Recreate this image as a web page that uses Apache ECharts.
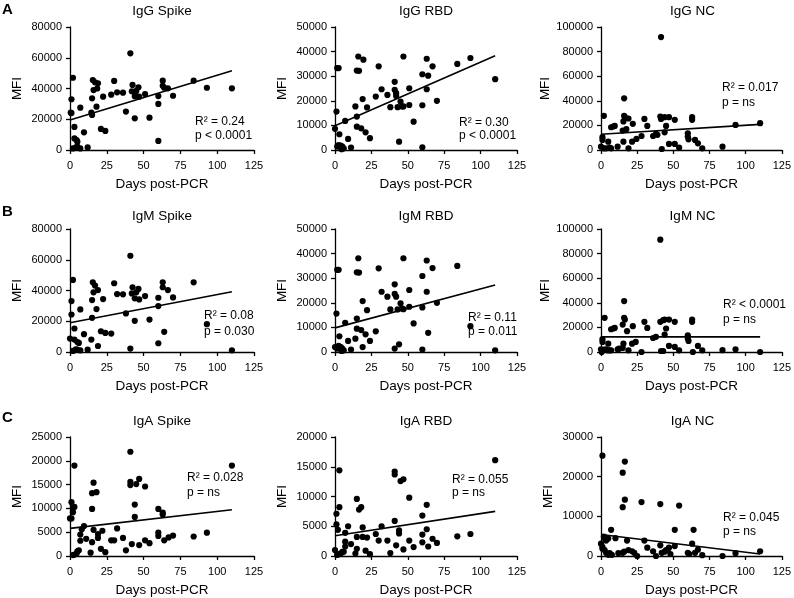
<!DOCTYPE html>
<html><head><meta charset="utf-8">
<script src="https://cdn.jsdelivr.net/npm/echarts@6/dist/echarts.min.js"></script>
<style>html,body{margin:0;padding:0;background:#fff}#c{width:794px;height:598px}</style>
</head><body><div id="c"></div>
<script>
// ---------- DATA ----------
const panelTitles = ['IgG Spike','IgG RBD','IgG NC','IgM Spike','IgM RBD','IgM NC','IgA Spike','IgA RBD','IgA NC'];
const rowLetters = ['A','B','C'];
const xTicks = [0,25,50,75,100,125];
const yMax = [80000,50000,100000,80000,50000,100000,25000,20000,30000];
const yStep = [20000,10000,20000,20000,10000,20000,5000,5000,10000];
const xAxisName = 'Days post-PCR';
const yAxisName = 'MFI';
const statR2 = ['R² = 0.24','R² = 0.30','R² = 0.017','R² = 0.08','R² = 0.11','R² < 0.0001','R² = 0.028','R² = 0.055','R² = 0.045'];
const statP = ['p < 0.0001','p < 0.0001','p = ns','p = 0.030','p = 0.011','p = ns','p = ns','p = ns','p = ns'];

const igGSpike = [[0.5,24300],[1,24000],[1,33000],[2,47000],[3,15000],[3,7500],[4.5,6500],[5,5400],[2,1000],[4,1700],[5,2200],[7,1000],[7,27500],[9.5,11500],[12,1700],[14.5,24300],[15,22800],[15,33600],[15.5,45500],[17,44000],[16,39000],[18.5,40000],[19,43400],[18,28200],[21,13700],[22.5,34700],[24,12400],[28,36000],[30,44900],[32,37500],[36,37300],[38,25000],[41,62900],[42,38200],[42.5,42300],[44,35000],[44,20600],[45,38400],[46.5,40800],[47,34700],[51,36400],[54,21000],[60,35100],[60,30000],[60,5900],[63,45100],[63,41800],[64,40500],[66.5,40100],[70,35300],[84,45100],[93,40500],[110,40100]];
const igGRbd = [[0,8600],[1,15600],[1.5,33300],[2.5,33300],[3,6400],[1.5,1400],[2.5,2000],[4,1800],[5,1400],[4.5,300],[6,700],[7,11800],[9,4500],[11,1000],[14,17700],[15,13600],[15,9500],[15,32300],[16.5,32200],[16,38000],[18,8800],[19.5,36700],[19,20700],[21,7200],[22,17300],[24,4800],[28,21700],[30,34000],[32,24700],[36,22400],[38,17400],[41,27700],[41,24500],[42,23100],[42,22000],[43,17400],[44,3400],[45,19700],[46,17700],[47,38000],[47,17700],[51,25100],[51,18300],[54,11500],[60,30800],[60,18200],[60,1100],[63,37100],[63,24700],[64,30200],[67,34000],[70,20000],[84,35000],[93,37400],[110,28800]];
const igGNc = [[0,2700],[1,8200],[1,10400],[2,27800],[2,1400],[3.5,1400],[5,6800],[6,1900],[7,1400],[7,18500],[8.5,19100],[9.5,19600],[11.5,2700],[15,15800],[15.5,6800],[15.5,23200],[16,27800],[16.5,26700],[16,42000],[17.5,16900],[19,25600],[19,1400],[21.5,6800],[22,21300],[24.5,9000],[28,11400],[30,25300],[32,19600],[36,11400],[38,13100],[39,12300],[41.5,91800],[41,27200],[41.5,25300],[42,800],[44,26700],[44,14400],[45,19600],[47,26700],[47,4900],[51,24500],[51,4900],[54,1900],[60,13600],[60,10900],[60.5,8700],[63,26700],[63,24500],[65,8200],[67,5400],[70,1400],[84,2700],[93,20400],[110,21800]];
const igMSpike = [[0,8700],[1,24400],[1,33100],[2,46900],[3,15300],[3,8100],[5,6500],[6,5900],[2,700],[4,1700],[5,1500],[7,1100],[7,27700],[9.5,11600],[12,1500],[14.5,8100],[15,22200],[15,33800],[15.5,45300],[17,43200],[16,38800],[19,40300],[18,27900],[19,3900],[21,13500],[22.5,34400],[24,12400],[28,12000],[30,44700],[32,37700],[36,37500],[38,25100],[41,62600],[41,2200],[42,38100],[42.5,42100],[44,34900],[44,20300],[45,38800],[46.5,41000],[47,34200],[51,36400],[54,21100],[60,35300],[60,29900],[60,5700],[63,45300],[63,42100],[64,13100],[66.5,40300],[70,35500],[84,45300],[93,18100],[110,1100]];
const igMRbd = [[0,2000],[1,15600],[1.5,33400],[2.5,33400],[3,6400],[1.5,1400],[2.5,2500],[4,2000],[5,1400],[4.5,400],[6,700],[7,11900],[9,4500],[11,1000],[14,5400],[15,13600],[15,9500],[15,32400],[16.5,32300],[16,38100],[18,8900],[19,2000],[19,20700],[21,7200],[22,17000],[24,4500],[28,8400],[30,34000],[32,24500],[36,22500],[38,17300],[41,27500],[41,23600],[42,22500],[41,1400],[43,17300],[44,3100],[45,19800],[46,17700],[47,38100],[47,17400],[51,25200],[51,18400],[54,11600],[60,30900],[60,18100],[60,1000],[63,37200],[63,24500],[64,7800],[67,34100],[70,20000],[84,35000],[93,10500],[110,700]];
const igMNc = [[0,2200],[0.5,0],[1,8200],[1,10400],[2.5,27800],[2,1900],[3.5,2200],[4.5,1400],[5,6800],[6,1400],[7,1400],[7,18500],[8.5,19100],[9.5,19600],[11.5,2200],[12.5,2700],[15,3300],[15.5,6800],[15,22300],[16,27800],[16.5,26400],[16,41400],[18,16900],[19,1400],[21.5,6800],[22,21000],[24,8200],[28,0],[30,24500],[32,19600],[36,11400],[38,12300],[41,91300],[41,24500],[43,25900],[41.5,800],[43,800],[44,14200],[45,19100],[44,26400],[47,26400],[47,4900],[51,24500],[51,4100],[54,1400],[60,13600],[60,10900],[60.5,9000],[63,26400],[63,24500],[63.5,0],[67,4900],[70,1400],[84,1500],[93,2200],[110,0]];
const igASpike = [[0,7900],[1,7900],[1,11300],[2,10300],[2,9200],[3,19000],[3,10300],[2,200],[3,300],[4.5,500],[5,1000],[6,1200],[7,4500],[7,3200],[8,5600],[9.5,6300],[11,3600],[14,700],[15,9900],[15,13200],[16,15400],[18,13400],[16,5500],[19,4600],[19,3800],[15,2900],[21,1500],[22,5300],[24,800],[28,3300],[30,3300],[32,5800],[36,3800],[38,1200],[41,21900],[41,15600],[41,14900],[42,2500],[44,10800],[44,8200],[45,15100],[47,16200],[47,2300],[51,14600],[51,3300],[54,2700],[60,9900],[60,4900],[60,4200],[63,9100],[63,8700],[64,3300],[67,3900],[70,4300],[84,4100],[93,4900],[110,19000]];
const igARbd = [[0,1000],[1,7100],[1,5300],[2,4400],[3,14400],[3,8200],[1.5,200],[2.5,300],[4,400],[5,700],[6,700],[7,2400],[7,1600],[7,3900],[9,5000],[11,2000],[14,400],[15,1200],[15,9600],[15,3200],[16.5,7800],[18,8200],[19,4800],[19,3200],[21,900],[22,3100],[24,300],[28,3700],[30,2600],[32,5000],[36,2600],[38,500],[41,14200],[41,13700],[41,5900],[42,1800],[44,4300],[44,3800],[45,12600],[47,12900],[47,1100],[51,9800],[51,2600],[54,1500],[60,6800],[60,3600],[60,2300],[63,8600],[63,4500],[64,1600],[67,2900],[70,2200],[84,3300],[93,3700],[110,16100]];
const igANc = [[1,25300],[0,3100],[1,2300],[2,4900],[2.5,4500],[3.5,3900],[1,1800],[2.5,1500],[3.5,800],[5,300],[6,700],[7.5,300],[5,4400],[7,6600],[10,4500],[12,700],[15,12300],[15,21000],[16.5,23800],[16.5,14200],[15,800],[16,1100],[18,3900],[19,1500],[21.5,1200],[23,800],[25,0],[28,13600],[30,3900],[32,2100],[36,1200],[38,0],[41,13100],[41,2700],[42,800],[44,1100],[45,1500],[46,1500],[47,2100],[48,500],[51,6600],[51,2500],[54,12700],[60,800],[61,500],[63,3100],[64,6600],[65,800],[67,1600],[70,200],[84,0],[93,700],[110,1200]];

const fitIgGSpike = [[0,19500],[110,51600]];
const fitIgGRbd = [[0,9900],[110,38300]];
const fitIgGNc = [[0,12800],[110,20800]];
const fitIgMSpike = [[0,19000],[110,39200]];
const fitIgMRbd = [[0,9800],[110,27200]];
const fitIgMNc = [[0,12300],[110,12300]];
const fitIgASpike = [[0,5800],[110,9700]];
const fitIgARbd = [[0,3400],[110,7500]];
const fitIgANc = [[0,5400],[110,500]];

const points = [igGSpike,igGRbd,igGNc,igMSpike,igMRbd,igMNc,igASpike,igARbd,igANc];
const fits = [fitIgGSpike,fitIgGRbd,fitIgGNc,fitIgMSpike,fitIgMRbd,fitIgMNc,fitIgASpike,fitIgARbd,fitIgANc];

// ---------- LAYOUT ----------
const colLeft = [70, 335, 601];
const colWidth = [184, 182, 183];
const rowTop = [27, 229, 437];
const rowHeight = [123, 123, 121];
const titleY = [11, 216, 421];
const letterY = [10, 212, 418];
const statPos = [[195,122,136],[459,123,136],[722,88,103],[204,316,332],[468,318,332],[723,305,320],[187,478,493],[452,480,493],[723,518,532]];
const FONT = 'Liberation Sans, Arial, Helvetica, sans-serif';

const grids = [], xAxes = [], yAxes = [], series = [], graphics = [];
for (let i = 0; i < 9; i++) {
  const r = Math.floor(i / 3), c = i % 3;
  grids.push({left: colLeft[c], top: rowTop[r], width: colWidth[c], height: rowHeight[r], containLabel: false});
  const axCommon = {
    axisLine: {show: true, lineStyle: {color: '#000', width: 1.3}},
    axisTick: {show: true, length: 4, inside: false, lineStyle: {color: '#000', width: 1.3}},
    splitLine: {show: false},
    axisLabel: {color: '#000', fontSize: 11, fontFamily: FONT, formatter: v => String(v)},
    nameTextStyle: {color: '#000', fontSize: 13.5, fontFamily: FONT}
  };
  xAxes.push(Object.assign({}, axCommon, {
    type: 'value', gridIndex: i, min: xTicks[0], max: xTicks[xTicks.length - 1],
    interval: xTicks[1] - xTicks[0], name: xAxisName, nameLocation: 'middle', nameGap: 27,
    axisLabel: Object.assign({}, axCommon.axisLabel, {margin: 10})
  }));
  yAxes.push(Object.assign({}, axCommon, {
    type: 'value', gridIndex: i, min: 0, max: yMax[i], interval: yStep[i],
    name: yAxisName, nameLocation: 'middle', nameGap: 46, nameRotate: 90,
    axisLabel: Object.assign({}, axCommon.axisLabel, {margin: 8})
  }));
  series.push({
    type: 'scatter', xAxisIndex: i, yAxisIndex: i, data: points[i],
    symbol: 'circle', symbolSize: 6.2, itemStyle: {color: '#000', opacity: 1}, clip: false, silent: true
  });
  series.push({
    type: 'line', xAxisIndex: i, yAxisIndex: i, data: fits[i], symbol: 'none',
    lineStyle: {color: '#000', width: 1.6}, silent: true, animation: false
  });
  graphics.push({type: 'text', x: colLeft[c] + colWidth[c] / 2, y: titleY[r],
    style: {text: panelTitles[i], fill: '#000', font: '13.5px ' + FONT, align: 'center', verticalAlign: 'middle', textAlign: 'center', textVerticalAlign: 'middle'}});
  graphics.push({type: 'text', x: statPos[i][0], y: statPos[i][1],
    style: {text: statR2[i], fill: '#000', font: '12px ' + FONT, align: 'left', verticalAlign: 'middle', textAlign: 'left', textVerticalAlign: 'middle'}});
  graphics.push({type: 'text', x: statPos[i][0], y: statPos[i][2],
    style: {text: statP[i], fill: '#000', font: '12px ' + FONT, align: 'left', verticalAlign: 'middle', textAlign: 'left', textVerticalAlign: 'middle'}});
}
for (let r = 0; r < 3; r++) {
  graphics.push({type: 'text', x: 2, y: letterY[r],
    style: {text: rowLetters[r], fill: '#000', font: 'bold 15px ' + FONT, align: 'left', verticalAlign: 'middle', textAlign: 'left', textVerticalAlign: 'middle'}});
}

const chart = echarts.init(document.getElementById('c'), null, {renderer: 'canvas'});
chart.setOption({
  animation: false,
  backgroundColor: '#fff',
  grid: grids, xAxis: xAxes, yAxis: yAxes, series: series, graphic: graphics
});
</script></body></html>
